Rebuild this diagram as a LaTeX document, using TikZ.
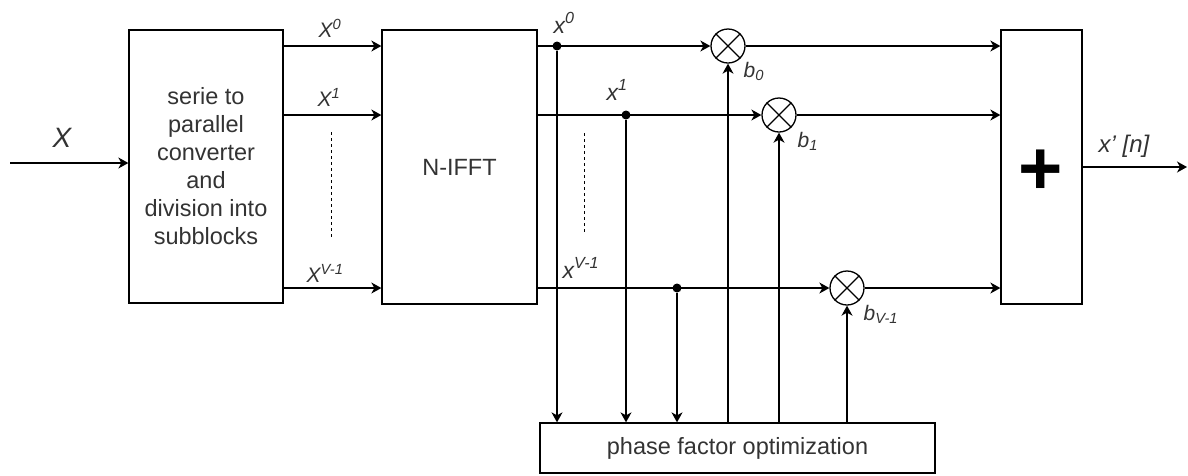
\documentclass[tikz,border=0pt]{standalone}
\usepackage{fontspec}
\setmainfont{Liberation Sans}
\usetikzlibrary{arrows.meta}
\definecolor{txt}{HTML}{333333}
\begin{document}
\begin{tikzpicture}[x=1pt,y=-1pt,
  line width=1.3pt,
  arr/.style={-{Stealth[length=10pt,width=11pt,inset=3pt]}},
  blk/.style={draw, line width=1.3pt, inner sep=0pt},
  lbl/.style={text=txt, font=\fontsize{21}{25}\selectfont\itshape, inner sep=0pt, anchor=base west},
  boxtxt/.style={text=txt, font=\fontsize{23.5}{28}\selectfont, align=center},
  mult/.style={draw, circle, minimum size=34pt, inner sep=0pt},
  jdot/.style={circle, fill, minimum size=9pt, inner sep=0pt},
  dots/.style={line width=1pt, dash pattern=on 3pt off 3pt}]

\useasboundingbox (0,0) rectangle (1188,475);

% blocks
\node[blk, minimum width=154pt, minimum height=273pt] (sp) at (206,166.5) {};
\node[boxtxt] (sptxt) at (sp.center) {serie to\\parallel\\converter\\and\\division into\\subblocks};
\node[blk, minimum width=155pt, minimum height=274pt] (ifft) at (459.5,167) {};
\node[boxtxt] (iffttxt) at (ifft.center) {N-IFFT};
\node[blk, minimum width=81pt, minimum height=274pt] (add) at (1041.5,167) {};
\node[text=black, font=\fontsize{76}{76}\selectfont\bfseries, inner sep=0pt] (plus) at (1041,172) {+};
\node[blk, minimum width=395pt, minimum height=50pt] (pfo) at (737.5,448) {};
\node[boxtxt] (pfotxt) at (pfo.center) {phase factor optimization};

% multipliers
\foreach \n/\x/\y in {m0/728/46, m1/779/115, m2/847/288}{
  \node[mult] (\n) at (\x,\y) {};
  \draw[line width=1.1pt] (\n.north west) -- (\n.south east) (\n.north east) -- (\n.south west);
}

% junction dots
\node[jdot] (d0) at (557,46) {};
\node[jdot] (d1) at (626,115) {};
\node[jdot] (d2) at (677,288) {};

% input
\coordinate (in) at (10,163);
\draw[arr] (in) -- (sp.west|-in);
\node[lbl, font=\fontsize{28}{30}\selectfont\itshape] (xin) at (52,147) {X};

% S/P outputs
\draw[arr] (sp.east|-m0) -- (ifft.west|-m0);
\draw[arr] (sp.east|-m1) -- (ifft.west|-m1);
\draw[arr] (sp.east|-m2) -- (ifft.west|-m2);
\node[lbl] (X0) at (318,37) {X\textsuperscript{0}};
\node[lbl] (X1) at (317,106) {X\textsuperscript{1}};
\node[lbl] (X2) at (306,282) {X\textsuperscript{V-1}};
\coordinate (da1) at (331,132);
\coordinate (da2) at (331,237);
\draw[dots] (da1) -- (da2);

% IFFT outputs
\draw[arr] (ifft.east|-m0) -- (m0.west);
\draw[arr] (ifft.east|-m1) -- (m1.west);
\draw[arr] (ifft.east|-m2) -- (m2.west);
\node[lbl, font=\fontsize{23}{25}\selectfont\itshape] (x0) at (553,33) {x\textsuperscript{0}};
\node[lbl, font=\fontsize{23}{25}\selectfont\itshape] (x1) at (606,100) {x\textsuperscript{1}};
\node[lbl, font=\fontsize{23}{25}\selectfont\itshape] (x2) at (562,278) {x\textsuperscript{V-1}};
\coordinate (db1) at (584,133);
\coordinate (db2) at (584,232);
\draw[dots] (db1) -- (db2);

% to adder
\draw[arr] (m0.east) -- (add.west|-m0);
\draw[arr] (m1.east) -- (add.west|-m1);
\draw[arr] (m2.east) -- (add.west|-m2);

% to phase factor optimization
\draw[arr] (d0) -- (d0|-pfo.north);
\draw[arr] (d1) -- (d1|-pfo.north);
\draw[arr] (d2) -- (d2|-pfo.north);
\draw[arr] (pfo.north-|m0) -- (m0.south);
\draw[arr] (pfo.north-|m1) -- (m1.south);
\draw[arr] (pfo.north-|m2) -- (m2.south);
\node[lbl] (b0) at (743,77) {b\textsubscript{0}};
\node[lbl] (b1) at (797,147) {b\textsubscript{1}};
\node[lbl] (b2) at (863,320) {b\textsubscript{V-1}};

% output
\coordinate (out) at (1187,167);
\draw[arr] (add.east) -- (out);
\node[lbl, font=\fontsize{24}{26}\selectfont\itshape] (xo) at (1098,152) {x' [n]};
\end{tikzpicture}
\end{document}
